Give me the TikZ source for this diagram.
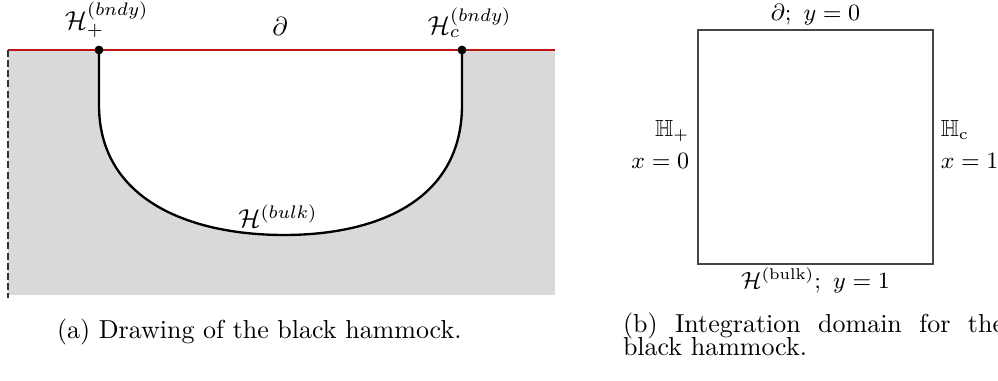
\documentclass[tikz,border=0pt]{standalone}
\usepackage{amsmath,amssymb}
\usepackage{tikz}
\usetikzlibrary{positioning}
\definecolor{hamgray}{RGB}{217,217,217}
\definecolor{bdryred}{RGB}{190,20,20}
\definecolor{framegray}{RGB}{70,70,70}

\begin{document}
\begin{tikzpicture}[x=0.385pt,y=-0.385pt,
  every node/.style={inner sep=0pt,outer sep=0pt},
  hdot/.style={circle,fill=black,minimum size=3.4pt},
  hammock/.style={line width=0.9pt,black},
  intbox/.style={draw=framegray,line width=0.5pt,minimum width=90.5pt,minimum height=90.1pt},
  sidelbl/.style={font=\fontsize{9}{12}\selectfont}]
  \useasboundingbox (0,0) rectangle (998,381);
  % (a) the hammock
  \coordinate (tl) at (8,50);
  \coordinate (tr) at (555,50);
  \coordinate (bl) at (8,298);
  \coordinate (bot) at (284,235);
  \fill[hamgray] (8,50) rectangle (555,295);
  \fill[white] (99,50) -- (99,105) .. controls (99,200) and (190,235) .. (bot)
    .. controls (378,235) and (462,200) .. (462,105) -- (462,50) -- cycle;
  \draw[bdryred,line width=0.45pt] (tl) -- (tr);
  \draw[black!80,line width=0.6pt,dash pattern=on 2.7pt off 1.2pt] (tl) -- (bl);
  \node[hdot] (hp) at (99,50) {};
  \node[hdot] (hc) at (462,50) {};
  \draw[hammock] (hp.center) -- (99,105) .. controls (99,200) and (190,235) .. (bot)
    .. controls (378,235) and (462,200) .. (462,105) -- (hc.center);
  \node[above=3pt of hp,xshift=3pt] (hplbl) {$\mathcal{H}_+^{(bndy)}$};
  \node[above=3pt of hc,xshift=3pt] (hclbl) {$\mathcal{H}_c^{(bndy)}$};
  \node (bd) at (280,26) {$\partial$};
  \node[anchor=south] (hbulk) at (278,228) {$\mathcal{H}^{(bulk)}$};
  \node[anchor=base west] (capa) at (57,339) {(a) Drawing of the black hammock.};

  % (b) integration domain
  \node[intbox] (dom) at (815.5,147) {};
  \node[sidelbl,above=2pt of dom] (top) {$\partial;\ y=0$};
  \node[sidelbl,below=1.3pt of dom] (bottom) {$\mathcal{H}^{(\mathrm{bulk})};\ y=1$};
  \node[sidelbl,left=3.4pt of dom,align=right,yshift=1pt] (left) {$\mathbb{H}_+$\\$x=0$};
  \node[sidelbl,right=3pt of dom,align=left,yshift=1pt] (right) {$\mathbb{H}_{\mathrm{c}}$\\$x=1$};
  \node[anchor=base west,text width=146.7pt,align=justify,
    font={\fontsize{10}{8.8}\selectfont\lineskiplimit=-20pt}] (capb) at (623,333)
    {(b) Integration domain for the black hammock.};
\end{tikzpicture}
\end{document}
